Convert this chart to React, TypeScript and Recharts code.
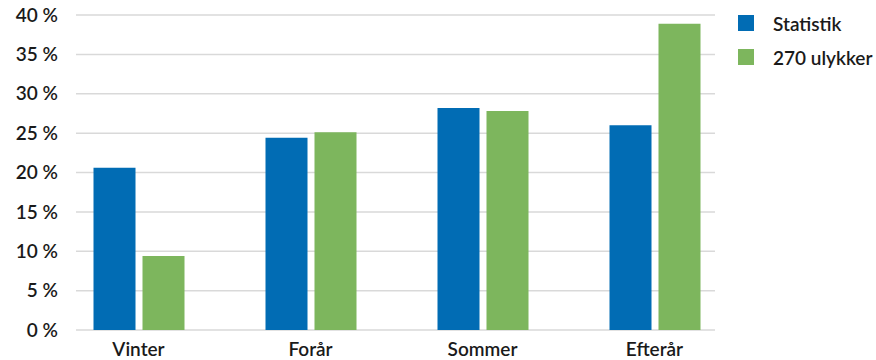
import { BarChart, Bar, XAxis, YAxis, CartesianGrid, Legend } from "recharts";

const seasons = ["Vinter", "Forår", "Sommer", "Efterår"];
const statistik = [20.6, 24.4, 28.2, 26.0];
const ulykker = [9.4, 25.1, 27.8, 38.9];
const yTicks = [0, 5, 10, 15, 20, 25, 30, 35, 40];

const series = [
  { key: "statistik", name: "Statistik", color: "#016cb4" },
  { key: "ulykker", name: "270 ulykker", color: "#7db65d" },
];

const data = seasons.map((season, i) => ({
  season,
  statistik: statistik[i],
  ulykker: ulykker[i],
}));

const FONT = "Lato, 'Noto Sans', sans-serif";
const TEXT = "#1a1a1a";

// grid lines are a bit shorter than the category bands
const GridLine = (props: any) => (
  <line
    key={props.key}
    x1={props.x1 + 23.5}
    x2={props.x2 - 25.5}
    y1={props.y1}
    y2={props.y2}
    stroke="#d9d9d9"
    strokeWidth={1.5}
  />
);

const YTick = ({ y, payload }: any) => (
  <text
    x={58}
    y={y}
    dy="0.35em"
    textAnchor="end"
    fontFamily={FONT}
    fontSize={19}
    fontWeight={600}
    fill={TEXT}
  >
    {`${payload.value} %`}
  </text>
);

const XTick = ({ x, payload }: any) => (
  <text
    x={x}
    y={356}
    textAnchor="middle"
    fontFamily={FONT}
    fontSize={19}
    fontWeight={600}
    fill={TEXT}
  >
    {payload.value}
  </text>
);

const LegendBox = () => (
  <div style={{ position: "absolute", left: 738, top: 15, fontFamily: FONT }}>
    {series.map((s) => (
      <div
        key={s.key}
        style={{ display: "flex", alignItems: "center", height: 16, marginBottom: 18 }}
      >
        <span style={{ width: 16, height: 16, background: s.color, display: "inline-block" }} />
        <span
          style={{ marginLeft: 19, fontSize: 19, fontWeight: 600, color: TEXT, whiteSpace: "nowrap" }}
        >
          {s.name}
        </span>
      </div>
    ))}
  </div>
);

export default function App() {
  return (
    <div style={{ position: "relative", width: 876, height: 360, background: "#fff" }}>
      <style>{"body{margin:0}"}</style>
      <BarChart
        width={876}
        height={360}
        data={data}
        margin={{ top: 15, right: 135.5, bottom: 0, left: 0 }}
        barSize={42}
        barGap={7}
      >
        <CartesianGrid vertical={false} horizontal={GridLine} />
        <XAxis
          dataKey="season"
          height={30}
          tickLine={false}
          axisLine={false}
          tick={<XTick />}
          interval={0}
        />
        <YAxis
          width={52.5}
          domain={[0, 40]}
          ticks={yTicks}
          tickLine={false}
          axisLine={false}
          tick={<YTick />}
        />
        <Legend content={<LegendBox />} wrapperStyle={{ left: 0, top: 0, width: 0 }} />
        {series.map((s) => (
          <Bar key={s.key} dataKey={s.key} name={s.name} fill={s.color} isAnimationActive={false} />
        ))}
      </BarChart>
    </div>
  );
}
